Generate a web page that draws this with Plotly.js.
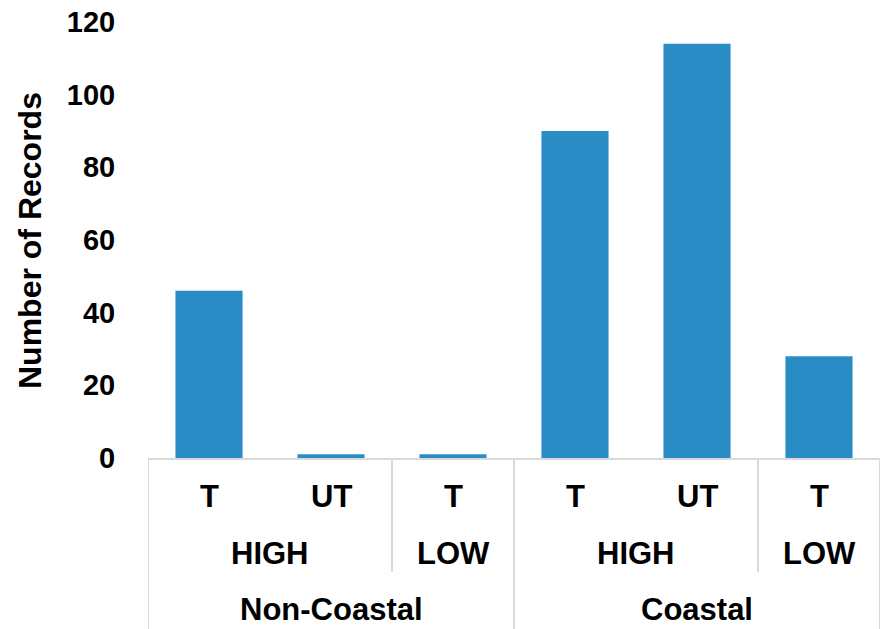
<!DOCTYPE html>
<html>
<head>
<meta charset="utf-8">
<script src="https://cdn.plot.ly/plotly-3.0.1.min.js"></script>
<style>html,body{margin:0;padding:0;background:#fff;}#chart{width:882px;height:629px;}</style>
</head>
<body>
<div id="chart"></div>
<script>
var level1 = ["T", "UT", "T", "T", "UT", "T"];
var level2 = ["HIGH", "HIGH", "LOW", "HIGH", "HIGH", "LOW"];
var level3 = ["Non-Coastal", "Non-Coastal", "Non-Coastal", "Coastal", "Coastal", "Coastal"];
var records = [46, 1, 1, 90, 114, 28];
var yTitle = "Number of Records";

var idx = level1.map(function (_, i) { return i; });
var FONT = "Liberation Sans, Arial, Helvetica, sans-serif";
var AX = "#d9d9d9";
var plotH = 629 - 22 - 171;
function py(p) { return (458 - p) / plotH; }

function groups(keyFn) {
  var out = [];
  for (var i = 0; i < idx.length; i++) {
    var k = keyFn(i);
    if (out.length && out[out.length - 1].key === k) out[out.length - 1].end = i;
    else out.push({ key: k, start: i, end: i, label: null });
  }
  return out;
}
var g2 = groups(function (i) { return level3[i] + "|" + level2[i]; });
g2.forEach(function (g) { g.label = level2[g.start]; });
var g3 = groups(function (i) { return level3[i]; });
g3.forEach(function (g) { g.label = level3[g.start]; });

var annotations = [];
var font = { family: FONT, size: 31, color: "#000", weight: "bold" };
idx.forEach(function (i) {
  annotations.push({ x: i, y: py(496), xref: "x", yref: "paper", text: level1[i], showarrow: false, font: font, xanchor: "center", yanchor: "middle" });
});
g2.forEach(function (g) {
  annotations.push({ x: (g.start + g.end) / 2, y: py(553), xref: "x", yref: "paper", text: g.label, showarrow: false, font: font, xanchor: "center", yanchor: "middle" });
});
g3.forEach(function (g) {
  annotations.push({ x: (g.start + g.end) / 2, y: py(609), xref: "x", yref: "paper", text: g.label, showarrow: false, font: font, xanchor: "center", yanchor: "middle" });
});
annotations.push({ x: (30 - 148) / 732, y: 0.5, xref: "paper", yref: "paper", text: yTitle, textangle: -90, showarrow: false, font: { family: FONT, size: 32, color: "#000", weight: "bold" }, xanchor: "center", yanchor: "middle" });

var shapes = [];
var full = py(629), short = py(572);
var g3Bounds = {};
g3.forEach(function (g) { g3Bounds[g.start - 0.5] = 1; g3Bounds[g.end + 0.5] = 1; });
var bounds = {};
g2.forEach(function (g) { bounds[g.start - 0.5] = 1; bounds[g.end + 0.5] = 1; });
Object.keys(bounds).forEach(function (b) {
  var xb = parseFloat(b);
  shapes.push({ type: "line", xref: "x", yref: "paper", x0: xb, x1: xb, y0: 0, y1: g3Bounds[b] ? full : short, line: { color: AX, width: 2 } });
});

Plotly.newPlot("chart", [{
  type: "bar",
  x: idx,
  y: records,
  marker: { color: "#2a8cc4" },
  hoverinfo: "y"
}], {
  width: 882, height: 629,
  margin: { l: 148, r: 2, t: 22, b: 171 },
  paper_bgcolor: "#fff", plot_bgcolor: "#fff",
  bargap: 0.45,
  showlegend: false,
  xaxis: {
    range: [-0.5, 5.5], showticklabels: false, showgrid: false, zeroline: false,
    showline: true, linecolor: AX, linewidth: 2, ticks: "", fixedrange: true
  },
  yaxis: {
    range: [0, 120], dtick: 20, showgrid: false, zeroline: false, showline: false,
    ticks: "outside", ticklen: 26, tickcolor: "rgba(0,0,0,0)",
    tickfont: { family: FONT, size: 29, color: "#000", weight: "bold" }, fixedrange: true
  },
  annotations: annotations,
  shapes: shapes
}, { displayModeBar: false, staticPlot: true });
</script>
</body>
</html>
